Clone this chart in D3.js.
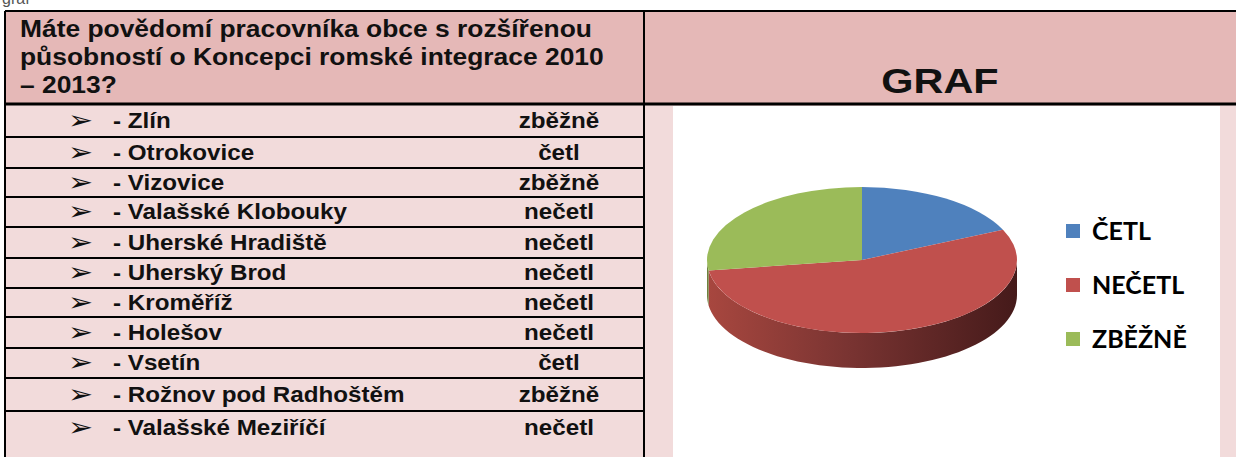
<!DOCTYPE html>
<html>
<head>
<meta charset="utf-8">
<script src="https://cdn.jsdelivr.net/npm/d3@7"></script>
<style>
  body { margin: 0; background: #fff; }
  svg { display: block; }
</style>
</head>
<body>
<div id="chart"></div>
<script>
// table data
const question = [
  'Máte povědomí pracovníka obce s rozšířenou',
  'působností o Koncepci romské integrace 2010',
  '– 2013?'
];
const towns = ['- Zlín', '- Otrokovice', '- Vizovice', '- Valašské Klobouky',
  '- Uherské Hradiště', '- Uherský Brod', '- Kroměříž', '- Holešov',
  '- Vsetín', '- Rožnov pod Radhoštěm', '- Valašské Meziříčí'];
const answers = ['zběžně', 'četl', 'zběžně', 'nečetl', 'nečetl', 'nečetl',
  'nečetl', 'nečetl', 'četl', 'zběžně', 'nečetl'];

// pie data
const pieLabels = ['ČETL', 'NEČETL', 'ZBĚŽNĚ'];
const pieValues = [2, 6, 3];
const pieColors = ['#4f81bd', '#c0504d', '#9bbb59'];

const W = 1236, H = 457;
const T = {left: 5, top: 11, split: 644, headBottom: 104, right: 1240};
// row borders of the table body
const rowEdges = [104, 137, 168, 197, 227, 258, 288, 317, 348, 378, 411, 470];
const FONT = 'Liberation Sans, Arial, sans-serif';

const svg = d3.select('#chart').append('svg')
  .attr('width', W).attr('height', H);

// clipped caption above the table
svg.append('text')
  .attr('x', 2).attr('y', 4)
  .attr('font-family', FONT)
  .attr('font-size', 16).attr('fill', '#555')
  .text('graf');

// header background
svg.append('rect')
  .attr('x', T.left).attr('y', T.top)
  .attr('width', T.right - T.left).attr('height', T.headBottom - T.top)
  .attr('fill', '#e5b8b7');

// body background
svg.append('rect')
  .attr('x', T.left).attr('y', T.headBottom)
  .attr('width', T.right - T.left).attr('height', H - T.headBottom)
  .attr('fill', '#f2dbdb');

// white chart area
const plot = {x: 673, y: 106, w: 547, h: H - 106};
svg.append('rect')
  .attr('x', plot.x).attr('y', plot.y)
  .attr('width', plot.w).attr('height', plot.h)
  .attr('fill', '#fff');

// header text
svg.append('g')
  .selectAll('text')
  .data(question)
  .join('text')
  .attr('transform', (d, i) => `translate(20,${37 + i * 28}) scale(1.1,1)`)
  .attr('font-family', FONT)
  .attr('font-weight', 'bold')
  .attr('font-size', 24)
  .attr('fill', '#111')
  .text(d => d);

svg.append('text')
  .attr('transform', 'translate(940,93) scale(1.15,1)')
  .attr('text-anchor', 'middle')
  .attr('font-family', FONT)
  .attr('font-weight', 'bold')
  .attr('font-size', 36)
  .attr('fill', '#111')
  .text('GRAF');

// table rows
const rows = svg.append('g')
  .selectAll('g')
  .data(towns)
  .join('g')
  .attr('transform', (d, i) => `translate(0,${(rowEdges[i] + Math.min(rowEdges[i + 1], 445)) / 2 + 7})`);

rows.append('text')
  .attr('transform', 'translate(68,1) scale(1.15,1)')
  .attr('font-family', 'DejaVu Sans, sans-serif')
  .attr('font-size', 26)
  .attr('fill', '#111')
  .text('➢');

rows.append('text')
  .attr('transform', 'translate(113,0) scale(1.1,1)')
  .attr('font-family', FONT)
  .attr('font-weight', 'bold')
  .attr('font-size', 22)
  .attr('fill', '#111')
  .text(d => d);

rows.append('text')
  .attr('transform', 'translate(559,0) scale(1.1,1)')
  .attr('text-anchor', 'middle')
  .attr('font-family', FONT)
  .attr('font-weight', 'bold')
  .attr('font-size', 22)
  .attr('fill', '#111')
  .text((d, i) => answers[i]);

// borders
const border = svg.append('g')
  .attr('stroke', '#000').attr('stroke-width', 2);
border.append('line')
  .attr('x1', T.left).attr('x2', T.right).attr('y1', T.top).attr('y2', T.top);
border.append('line')
  .attr('x1', T.left).attr('x2', T.right)
  .attr('y1', T.headBottom).attr('y2', T.headBottom)
  .attr('stroke-width', 3);
border.append('line')
  .attr('x1', T.left).attr('x2', T.left).attr('y1', T.top).attr('y2', H);
border.append('line')
  .attr('x1', T.split).attr('x2', T.split).attr('y1', T.top).attr('y2', H);
border.selectAll('line.row')
  .data(rowEdges.slice(1, -1))
  .join('line')
  .attr('class', 'row')
  .attr('x1', T.left).attr('x2', T.split)
  .attr('y1', d => d).attr('y2', d => d);

// 3D pie
const cx = 862, cy = 260, rx = 155, ry = 73, depth = 35;
const color = d3.scaleOrdinal().domain(pieLabels).range(pieColors);
const pie = d3.pie().sort(null).value(d => d.value);
const slices = pie(pieLabels.map((l, i) => ({label: l, value: pieValues[i]})));

const defs = svg.append('defs');
const grad = defs.append('linearGradient')
  .attr('id', 'sideRed')
  .attr('gradientUnits', 'userSpaceOnUse')
  .attr('x1', cx - rx).attr('x2', cx + rx).attr('y1', 0).attr('y2', 0);
grad.append('stop').attr('offset', '0%').attr('stop-color', '#a8473f');
grad.append('stop').attr('offset', '45%').attr('stop-color', '#7a3432');
grad.append('stop').attr('offset', '100%').attr('stop-color', '#451a1a');

const px = a => cx + rx * Math.sin(a);
const py = a => cy - ry * Math.cos(a);

// front wall: visible between angles PI/2 and 3PI/2
const side = svg.append('g');
slices.forEach(s => {
  const a0 = Math.max(s.startAngle, Math.PI / 2);
  const a1 = Math.min(s.endAngle, 3 * Math.PI / 2);
  if (a1 <= a0) return;
  const p = d3.path();
  p.moveTo(px(a0), py(a0));
  const steps = 60;
  for (let k = 1; k <= steps; k++) {
    const a = a0 + (a1 - a0) * k / steps;
    p.lineTo(px(a), py(a));
  }
  for (let k = steps; k >= 0; k--) {
    const a = a0 + (a1 - a0) * k / steps;
    p.lineTo(px(a), py(a) + depth);
  }
  p.closePath();
  side.append('path')
    .attr('d', p.toString())
    .attr('fill', s.data.label === 'NEČETL' ? 'url(#sideRed)' : d3.color(color(s.data.label)).darker(1));
});

// top face
const arc = d3.arc().innerRadius(0).outerRadius(rx);
svg.append('g')
  .attr('transform', `translate(${cx},${cy}) scale(1,${ry / rx})`)
  .selectAll('path')
  .data(slices)
  .join('path')
  .attr('d', arc)
  .attr('fill', d => color(d.data.label));

// legend
const legend = svg.append('g')
  .selectAll('g')
  .data(pieLabels)
  .join('g')
  .attr('transform', (d, i) => `translate(1066,${231 + i * 54})`);

legend.append('rect')
  .attr('x', 0).attr('y', -7)
  .attr('width', 14).attr('height', 14)
  .attr('fill', d => color(d));

legend.append('text')
  .attr('x', 26).attr('y', 9)
  .attr('font-family', 'Lato, sans-serif')
  .attr('font-weight', 'bold')
  .attr('font-size', 25)
  .attr('fill', '#000')
  .text(d => d);
</script>
</body>
</html>
